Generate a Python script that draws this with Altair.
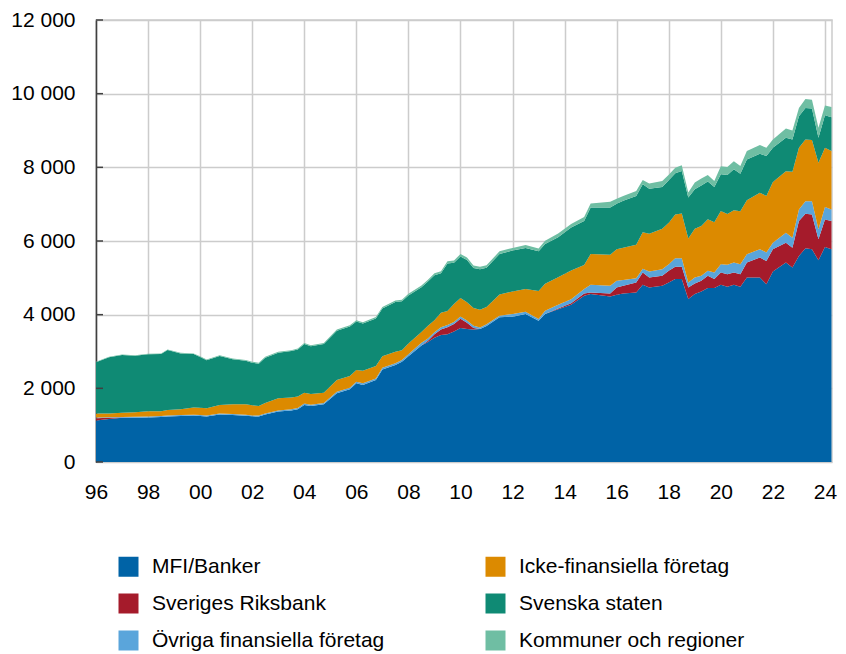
import altair as alt
import pandas as pd

# Quarter positions (decimal years)
years = [1996.0, 1996.5, 1997.0, 1997.5, 1998.0, 1998.5, 1998.75,
         1999.25, 1999.75, 2000.0, 2000.25, 2000.75, 2001.25, 2001.75,
         2002.0, 2002.25, 2002.5, 2003.0, 2003.5, 2003.75,
         2004.0, 2004.25, 2004.75, 2005.25, 2005.75,
         2006.0, 2006.25, 2006.75, 2007.0, 2007.5, 2007.75,
         2008.0, 2008.5, 2008.75, 2009.0, 2009.25, 2009.5, 2009.75,
         2010.0, 2010.25, 2010.5, 2010.75, 2011.0, 2011.5, 2012.0, 2012.5,
         2013.0, 2013.25, 2013.75, 2014.25, 2014.75, 2015.0, 2015.75,
         2016.0, 2016.25, 2016.75, 2017.0, 2017.25, 2017.75,
         2018.0, 2018.25, 2018.5, 2018.75, 2019.0, 2019.25, 2019.5, 2019.75,
         2020.0, 2020.25, 2020.5, 2020.75, 2021.0, 2021.5, 2021.75,
         2022.0, 2022.5, 2022.75, 2023.0, 2023.25, 2023.5, 2023.75,
         2024.0, 2024.25]

mfi_banker = [1125, 1165, 1200, 1200, 1210, 1225, 1235,
              1250, 1261, 1250, 1234, 1290, 1275, 1255,
              1240, 1234, 1290, 1369, 1396, 1432,
              1550, 1522, 1567, 1865, 1973,
              2135, 2090, 2225, 2513, 2631, 2721,
              2874, 3163, 3260, 3370, 3451, 3470, 3540,
              3640, 3610, 3600, 3610, 3690, 3928, 3946, 4018,
              3838, 4018, 4150, 4270, 4514, 4559, 4496,
              4541, 4577, 4600, 4815, 4739, 4784,
              4874, 4965, 4965, 4424, 4559, 4631, 4721, 4721,
              4811, 4757, 4811, 4757, 5009, 5009, 4829,
              5171, 5414, 5280, 5595, 5803, 5776, 5478,
              5838, 5776]

riksbank = [65, 35, 10, 0, 0, 0, 0,
            0, 0, 0, 0, 0, 0, 0,
            0, 0, 0, 0, 0, 0,
            0, 0, 0, 0, 0,
            0, 0, 0, 0, 0, 0,
            0, 0, 30, 100, 149, 188, 208,
            250, 170, 40, 0, 0, 0, 0, 0,
            0, 0, 20, 40, 63, 45, 81,
            198, 207, 270, 329, 270, 270,
            316, 333, 333, 315, 288, 288, 333, 244,
            333, 343, 333, 343, 405, 541, 631,
            605, 541, 540, 946, 936, 945, 568,
            748, 765]

ovriga_fin = [15, 15, 15, 30, 25, 25, 25,
              25, 24, 25, 26, 25, 25, 25,
              25, 26, 30, 31, 34, 33,
              35, 33, 33, 40, 42,
              45, 45, 45, 47, 49, 49,
              51, 77, 60, 50, 60, 62, 52,
              60, 60, 60, 40, 50, 45, 72, 63,
              45, 91, 100, 110, 123, 207, 207,
              180, 154, 120, 106, 162, 181,
              180, 234, 234, 135, 162, 135, 136, 179,
              226, 252, 270, 270, 227, 226, 225,
              179, 270, 270, 316, 343, 361, 270,
              334, 316]

icke_fin = [115, 105, 115, 120, 145, 130, 154,
            157, 192, 195, 199, 235, 267, 287,
            275, 262, 280, 330, 318, 310,
            298, 292, 283, 320, 318,
            315, 342, 334, 314, 311, 266,
            291, 292, 350, 330, 390, 380, 490,
            505, 500, 480, 486, 467, 577, 613, 619,
            757, 729, 748, 778, 650, 834, 842,
            857, 882, 907, 990, 1024, 1095,
            1126, 1189, 1218, 1196, 1321, 1352, 1400, 1366,
            1445, 1383, 1421, 1435, 1464, 1535, 1536,
            1649, 1672, 1790, 1673, 1675, 1657, 1810,
            1612, 1584]

svenska_staten = [1386, 1521, 1565, 1536, 1545, 1551, 1625,
                  1517, 1454, 1380, 1305, 1331, 1224, 1183,
                  1156, 1147, 1231, 1236, 1263, 1281,
                  1321, 1294, 1321, 1335, 1344,
                  1317, 1281, 1293, 1293, 1356, 1329,
                  1307, 1211, 1200, 1221, 1075, 1290, 1118,
                  1125, 1146, 1090, 1099, 1068, 1099, 1108, 1111,
                  1081, 1081, 1081, 1171, 1190, 1265, 1284,
                  1234, 1270, 1328, 1301, 1225, 1138,
                  1154, 1117, 1151, 1110, 1075, 1104, 1023, 958,
                  996, 1058, 1111, 1024, 1111, 1058, 1085,
                  928, 905, 877, 857, 856, 856, 676,
                  882, 919]

kommuner = [15, 15, 15, 15, 15, 15, 15,
            15, 15, 20, 20, 20, 20, 20,
            25, 25, 25, 25, 25, 25,
            30, 30, 30, 35, 35,
            35, 35, 40, 40, 40, 40,
            45, 50, 50, 55, 55, 60, 60,
            65, 69, 63, 65, 65, 72, 72, 81,
            72, 90, 108, 90, 110, 108, 153,
            140, 135, 135, 117, 140, 163,
            150, 153, 153, 135, 181, 190, 180, 163,
            216, 216, 216, 207, 225, 235, 225,
            225, 252, 243, 226, 243, 243, 270,
            262, 280]

names = ["MFI/Banker", "Sveriges Riksbank", "Övriga finansiella företag",
         "Icke-finansiella företag", "Svenska staten", "Kommuner och regioner"]
colors = ["#0063a6", "#a51b2b", "#5aa5db", "#dc8a00", "#0f8a74", "#6fbea3"]
series = [mfi_banker, riksbank, ovriga_fin, icke_fin, svenska_staten, kommuner]

y_ticks = [0, 2000, 4000, 6000, 8000, 10000, 12000]
x_ticks = list(range(1996, 2025, 2))

records = []
for rank, (name, vals) in enumerate(zip(names, series)):
    for yr, v in zip(years, vals):
        records.append({"year": yr, "sektor": name, "value": v, "rank": rank})
df = pd.DataFrame(records)

FONT = "Liberation Sans"

y_axis = alt.Axis(values=y_ticks, title=None,
                  labelExpr="replace(format(datum.value, ','), ',', ' ')",
                  grid=True, gridColor="#cccccc", gridWidth=1.5,
                  domain=True, domainColor="#404040", domainWidth=1.5,
                  ticks=False, labelPadding=21,
                  labelFontSize=21, labelFont=FONT, labelColor="#000000")
y_scale = alt.Scale(domain=[0, 12000], nice=False)

area = alt.Chart(df).mark_area(interpolate="linear").encode(
    x=alt.X("year:Q",
            scale=alt.Scale(domain=[1996, 2024.27], nice=False, zero=False),
            axis=alt.Axis(values=x_ticks, title=None,
                          labelExpr="substring(toString(datum.value), 2, 4)",
                          grid=True, gridColor="#cccccc", gridWidth=1.5,
                          domain=False, ticks=False, labelPadding=19,
                          labelFontSize=21, labelFont=FONT, labelColor="#000000",
                          labelFlush=False)),
    y=alt.Y("value:Q", stack="zero", scale=y_scale, axis=y_axis),
    color=alt.Color("sektor:N",
                    scale=alt.Scale(domain=names, range=colors),
                    legend=alt.Legend(orient="none", legendX=22, legendY=536,
                                      columns=2, direction="vertical",
                                      title=None, symbolType="square",
                                      symbolSize=400, symbolStrokeWidth=0,
                                      labelFontSize=21, labelFont=FONT,
                                      labelColor="#000000", labelOffset=13,
                                      labelLimit=400, rowPadding=15,
                                      columnPadding=100, padding=0)),
    order=alt.Order("rank:Q", sort="ascending"),
)

tick_df = pd.DataFrame({"value": y_ticks})
ticks = alt.Chart(tick_df).mark_rule(color="#404040", strokeWidth=1.5).encode(
    y=alt.Y("value:Q", scale=y_scale, axis=y_axis),
    x=alt.value(0),
    x2=alt.value(7),
)

chart = alt.layer(area, ticks).properties(
    width=736, height=442,
    autosize=alt.AutoSizeParams(type="none"),
    padding={"left": 88, "top": 12, "right": 6, "bottom": 190},
).configure_view(stroke="#cccccc", strokeWidth=1.5)

chart.save("out.html", embed_options={"renderer": "svg", "actions": False})
